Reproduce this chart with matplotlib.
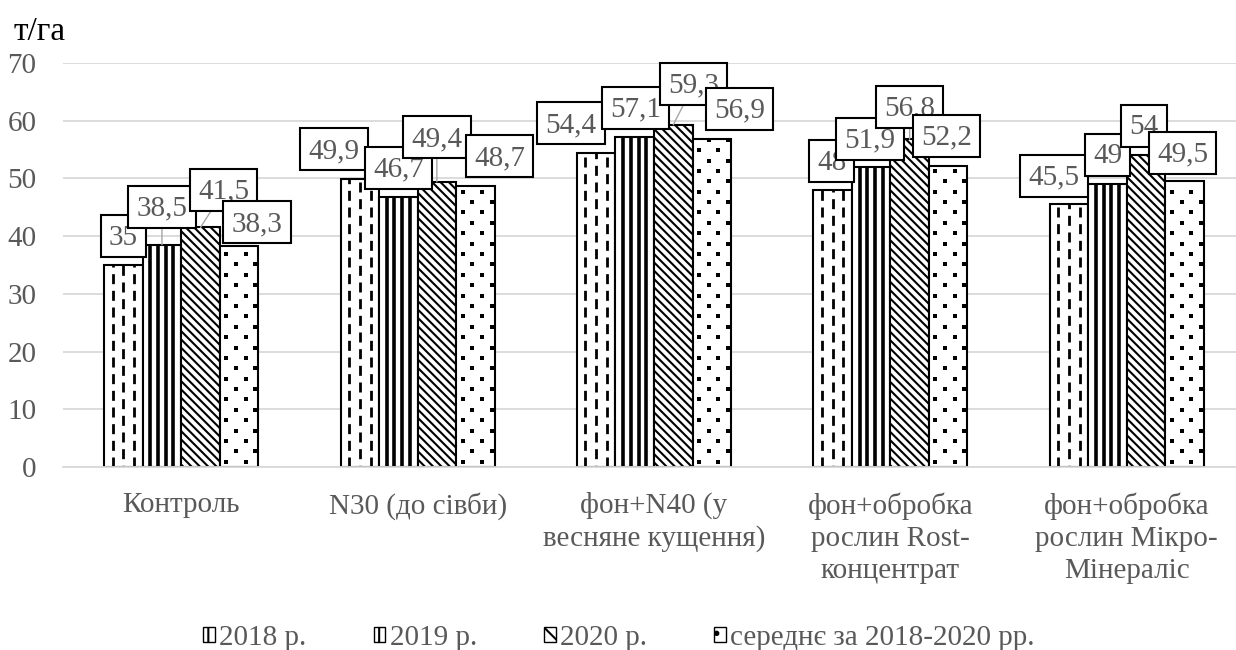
import matplotlib
matplotlib.use("Agg")
import matplotlib.pyplot as plt
import numpy as np
from matplotlib.patches import Patch
from matplotlib.path import Path


CATEGORIES = [
    "Контроль",
    "N30 (до сівби)",
    "фон+N40 (у\nвесняне кущення)",
    "фон+обробка\nрослин Rost-\nконцентрат",
    "фон+обробка\nрослин Мікро-\nМінераліс",
]
SERIES_NAMES = ["2018 р.", "2019 р.", "2020 р.", "середнє за 2018-2020 рр."]
Y2018 = [35.0, 49.9, 54.4, 48.0, 45.5]
Y2019 = [38.5, 46.7, 57.1, 51.9, 49.0]
Y2020 = [41.5, 49.4, 59.3, 56.8, 54.0]
YMEAN = [38.3, 48.7, 56.9, 52.2, 49.5]
LABELS = [
    ["35", "49,9", "54,4", "48", "45,5"],
    ["38,5", "46,7", "57,1", "51,9", "49"],
    ["41,5", "49,4", "59,3", "56,8", "54"],
    ["38,3", "48,7", "56,9", "52,2", "49,5"],
]

# label box offsets (pixels) from the top of each bar, as placed in the original
LABEL_DX = [
    [0, -26, -25, -1, -15],
    [0, 0, 1, -1, 0],
    [23, 0, 20, 0, -2],
    [18, 24, 28, -2, -2],
]
LABEL_DY = [
    [27, 28, 28, 27, 27],
    [36, 28, 28, 27, 28],
    [36, 43, 39, 31, 28],
    [22, 28, 28, 28, 27],
]

GRAY = "#595959"
FONT = 21
LABEL_FONT = 21

plt.rcParams["font.family"] = ["Liberation Serif", "DejaVu Serif"]
plt.rcParams["hatch.linewidth"] = 1.5
plt.rcParams["hatch.color"] = "black"


def label_box(x0, y0, width, height, mutation_size):
    # Excel-like callout box: fixed height, narrow side padding
    padx = 0.28 * mutation_size
    half = 0.72 * mutation_size
    cy = y0 + 0.5 * mutation_size
    left, right = x0 - padx, x0 + width + padx
    return Path([(left, cy - half), (right, cy - half), (right, cy + half),
                 (left, cy + half), (left, cy - half)], closed=True)


fig = plt.figure(figsize=(12.36, 6.5), dpi=100)
ax = fig.add_axes([63 / 1236, 183 / 650, 1182 / 1236, 404 / 650])

x = np.arange(len(CATEGORIES))
width = 0.163
series = [Y2018, Y2019, Y2020, YMEAN]
hatches = [None, None, "\\\\\\\\", None]

containers = []
for i, values in enumerate(series):
    bars = ax.bar(
        x + (i - 1.5) * width,
        values,
        width,
        color="white",
        edgecolor="black",
        linewidth=1.5,
        hatch=hatches[i],
        zorder=2,
    )
    containers.append(bars)

# 2018: staggered dashed strokes
for rect in containers[0]:
    x0, w, h = rect.get_x(), rect.get_width(), rect.get_height()
    for k, frac in enumerate([0.22, 0.5, 0.78]):
        phase = 0 if k % 2 == 0 else 3.0
        line, = ax.plot([x0 + w * frac] * 2, [0, h], color="black",
                        linewidth=2.0, linestyle=(phase, (3.6, 2.4)),
                        dash_capstyle="butt", zorder=2.5)
        line.set_clip_path(rect)
# 2019: solid vertical stripes
for rect in containers[1]:
    x0, w, h = rect.get_x(), rect.get_width(), rect.get_height()
    lines = ax.vlines(x0 + w * np.array([0.2, 0.4, 0.6, 0.8]), 0, h,
                      colors="black", linewidth=2.6, zorder=2.5)
    lines.set_clip_path(rect)
# mean: sparse staggered dots
for rect in containers[3]:
    x0, w, h = rect.get_x(), rect.get_width(), rect.get_height()
    rows = np.arange(0.9, h, 1.8)
    for r, yy in enumerate(rows):
        fracs = [0.17, 0.67] if r % 2 == 0 else [0.42, 0.92]
        dots, = ax.plot(x0 + w * np.array(fracs), [yy] * 2, "s", ms=2.2,
                        mew=0, color="black", zorder=2.5)
        dots.set_clip_path(rect)

for i, bars in enumerate(containers):
    for j, rect in enumerate(bars):
        cx = rect.get_x() + rect.get_width() / 2
        top = rect.get_height()
        dy = LABEL_DY[i][j]
        arrow = None
        if dy >= 30:
            arrow = dict(arrowstyle="-", color="#a6a6a6", lw=1.0,
                         shrinkA=0, shrinkB=0)
        ax.annotate(
            LABELS[i][j],
            xy=(cx, top),
            xytext=(LABEL_DX[i][j], dy),
            textcoords="offset pixels",
            ha="center",
            va="center",
            fontsize=LABEL_FONT,
            color=GRAY,
            bbox=dict(boxstyle=label_box, fc="white", ec="black", lw=1.5),
            arrowprops=arrow,
            zorder=5,
        )

ax.set_xlim(-0.5, len(CATEGORIES) - 0.5)
ax.set_ylim(0, 70)
ax.set_yticks(np.arange(0, 71, 10))
ax.set_xticks(x)
ax.set_xticklabels(CATEGORIES, fontsize=FONT, color=GRAY, linespacing=1.3)
ax.tick_params(axis="y", length=0, pad=19, labelsize=FONT, labelcolor=GRAY)
ax.tick_params(axis="x", length=0, pad=18)
ax.grid(axis="y", color="#d9d9d9", linewidth=1.3, zorder=0)
ax.set_axisbelow(True)
for side in ["top", "right", "left"]:
    ax.spines[side].set_visible(False)
ax.spines["bottom"].set_color("#d9d9d9")
ax.spines["bottom"].set_linewidth(1.3)

fig.text(14 / 1236, 1 - 32 / 650, "т/га", fontsize=24, color="black",
         ha="left", va="center")

handles = [
    Patch(facecolor="white", edgecolor="black", hatch="|"),
    Patch(facecolor="white", edgecolor="black", hatch="||"),
    Patch(facecolor="white", edgecolor="black", hatch="\\\\"),
    Patch(facecolor="white", edgecolor="black", hatch="."),
]
fig.legend(
    handles,
    SERIES_NAMES,
    loc="center",
    bbox_to_anchor=(619 / 1236, 1 - 638 / 650),
    ncol=4,
    frameon=False,
    fontsize=FONT,
    labelcolor=GRAY,
    handlelength=0.4,
    handleheight=0.4,
    handletextpad=0.15,
    columnspacing=2.3,
    borderpad=0,
)

fig.savefig("out.png", dpi=100)
